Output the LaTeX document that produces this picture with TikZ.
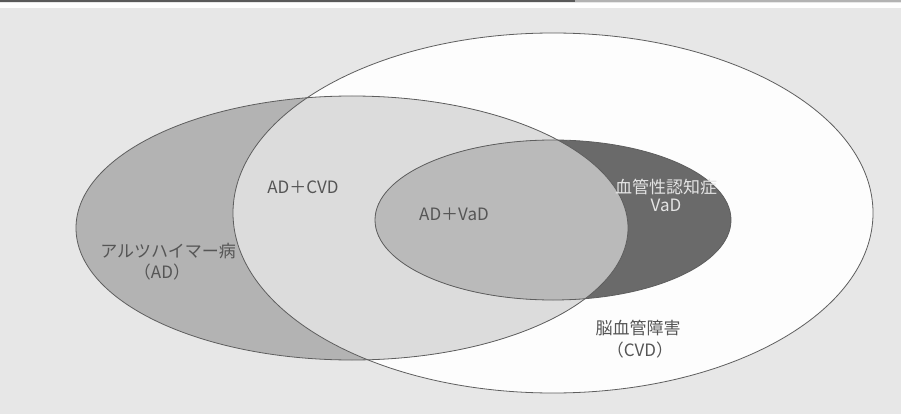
\documentclass[tikz,border=0pt]{standalone}
\usepackage{fontspec}
\setmainfont{Noto Sans CJK JP}
\begin{document}
\begin{tikzpicture}[x=1pt,y=-1pt,
  lbl/.style={font=\fontsize{17}{20}\selectfont, text=textdark, inner sep=0pt, align=center},
  lbllight/.style={lbl, text=textlight},
  outline/.style={draw=edge, line width=0.8pt}]
\definecolor{bg}{HTML}{E7E7E7}
\definecolor{cvdonly}{HTML}{FDFDFD}
\definecolor{adonly}{HTML}{B3B3B3}
\definecolor{adcvd}{HTML}{DCDCDC}
\definecolor{advad}{HTML}{BABABA}
\definecolor{vadonly}{HTML}{6A6A6A}
\definecolor{edge}{HTML}{5E5E5E}
\definecolor{textdark}{HTML}{555555}
\definecolor{textlight}{HTML}{E4E4E4}
\useasboundingbox (0,0) rectangle (901,414);
\fill[bg] (0,0) rectangle (901,414);
\fill[white!96!bg] (0,3) rectangle (901,8);
\draw[line width=2.5pt, draw=black!65] (0,1.2) -- (575,1.2);
\draw[line width=2.5pt, draw=black!30] (575,1.2) -- (901,1.2);
% CVD (white)
\fill[cvdonly] (553,213) ellipse [x radius=320pt, y radius=180pt];
% AD
\fill[adonly] (352,228) ellipse [x radius=276pt, y radius=132pt];
\begin{scope}
  \clip (553,213) ellipse [x radius=320pt, y radius=180pt];
  \fill[adcvd] (352,228) ellipse [x radius=276pt, y radius=132pt];
\end{scope}
% VaD
\fill[vadonly] (553,220) ellipse [x radius=178pt, y radius=80pt];
\begin{scope}
  \clip (352,228) ellipse [x radius=276pt, y radius=132pt];
  \fill[advad] (553,220) ellipse [x radius=178pt, y radius=80pt];
\end{scope}
% outlines
\draw[outline] (553,213) ellipse [x radius=320pt, y radius=180pt];
\draw[outline] (352,228) ellipse [x radius=276pt, y radius=132pt];
\draw[outline] (553,220) ellipse [x radius=178pt, y radius=80pt];
% labels
\node[lbl] (adcvdlbl) at (303,187) {AD＋CVD};
\node[lbl] (advadlbl) at (454,214) {AD＋VaD};
\node[lbllight] (vadlbl1) at (666,187) {血管性認知症};
\node[lbllight] (vadlbl2) at (666,205) {VaD};
\node[lbl] (adlbl1) at (168,251) {アルツハイマー病};
\node[lbl] (adlbl2) at (162,272) {（AD）};
\node[lbl] (cvdlbl1) at (638,328) {脳血管障害};
\node[lbl] (cvdlbl2) at (640,350) {（CVD）};
\end{tikzpicture}
\end{document}
